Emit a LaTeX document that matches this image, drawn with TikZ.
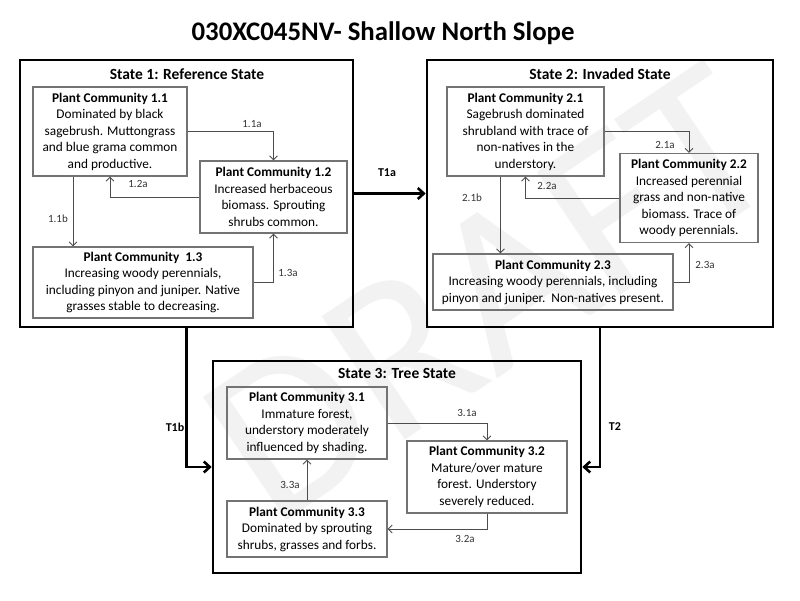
\documentclass[tikz,border=0pt]{standalone}
\usepackage{fontspec}
\setmainfont{Carlito}
\usetikzlibrary{arrows.meta}
\tikzset{
  statebox/.style={draw, line width=2.6pt, inner sep=0pt},
  statetitle/.style={font=\fontsize{15.5}{18}\selectfont\bfseries},
  pcbox/.style={draw=black!55, line width=1.1pt, align=center, inner sep=1pt,
    font=\fontsize{13.3}{16.5}\selectfont},
  pcarrow/.style={draw=black!70, line width=0.9pt, -{Straight Barb[length=4pt,width=8pt]}},
  trarrow/.style={line width=2.6pt, -{Straight Barb[length=6pt,width=11pt]}},
  pclabel/.style={font=\fontsize{11}{13}\selectfont, text=black!80},
  trlabel/.style={font=\fontsize{12}{14}\selectfont\bfseries}
}
\begin{document}
\begin{tikzpicture}[x=1pt,y=-1pt]
\useasboundingbox (0,0) rectangle (800,600);
% watermark
\node[rotate=34, text=black!5, font=\fontsize{232}{232}\selectfont] (draft) at (490,294) {DRAFT};
\node[font=\fontsize{26.8}{30}\selectfont\bfseries] (title) at (383,33) {030XC045NV- Shallow North Slope};
% states
\node[statebox, minimum width=333, minimum height=267] (s1) at (186.5,193.5) {};
\node[statebox, minimum width=346, minimum height=267] (s2) at (600,193.5) {};
\node[statebox, minimum width=368, minimum height=212] (s3) at (397,467) {};
\node[statetitle] (s1t) at (187,74) {State 1: Reference State};
\node[statetitle] (s2t) at (600,74) {State 2: Invaded State};
\node[statetitle] (s3t) at (397,373) {State 3: Tree State};
% state 1
\node[pcbox, minimum width=154, minimum height=89] (pc11) at (110,131.5)
  {\textbf{Plant Community 1.1}\\Dominated by black\\sagebrush. Muttongrass\\and blue grama common\\and productive.};
\node[pcbox, minimum width=147, minimum height=72] (pc12) at (273.5,197)
  {\textbf{Plant Community 1.2}\\Increased herbaceous\\biomass. Sprouting\\shrubs common.};
\node[pcbox, minimum width=220, minimum height=71] (pc13) at (143,282.5)
  {\textbf{Plant Community\ \ 1.3}\\Increasing woody perennials,\\including pinyon and juniper. Native\\grasses stable to decreasing.};
\draw[pcarrow] (pc11.east) -| (pc12.north);
\draw[pcarrow] (pc12.west) -| (pc11.south);
\draw[pcarrow] ([xshift=-37]pc11.south) -- ([xshift=-37]pc11.south |- pc13.north);
\draw[pcarrow] (pc13.east) -| (pc12.south);
\node[pclabel] at (252,124) {1.1a};
\node[pclabel] at (138,184) {1.2a};
\node[pclabel] at (58,219) {1.1b};
\node[pclabel] at (288,273) {1.3a};
% state 2
\node[pcbox, minimum width=157, minimum height=89] (pc21) at (525.5,131.5)
  {\textbf{Plant Community 2.1}\\Sagebrush dominated\\shrubland with trace of\\non-natives in the\\understory.};
\node[pcbox, minimum width=138, minimum height=89] (pc22) at (689,198)
  {\textbf{Plant Community 2.2}\\Increased perennial\\grass and non-native\\biomass. Trace of\\woody perennials.};
\node[pcbox, minimum width=240, minimum height=56] (pc23) at (553,282)
  {\textbf{Plant Community 2.3}\\Increasing woody perennials, including\\pinyon and juniper.\ \ Non-natives present.};
\draw[pcarrow] (pc21.east) -| (pc22.north);
\draw[pcarrow] (pc22.west) -| (pc21.south);
\draw[pcarrow] ([xshift=-25]pc21.south) -- ([xshift=-25]pc21.south |- pc23.north);
\draw[pcarrow] (pc23.east) -| (pc22.south);
\node[pclabel] at (665,145) {2.1a};
\node[pclabel] at (547,186) {2.2a};
\node[pclabel] at (472,198) {2.1b};
\node[pclabel] at (705,265) {2.3a};
% state 3
\node[pcbox, minimum width=160, minimum height=72] (pc31) at (307,423)
  {\textbf{Plant Community 3.1}\\Immature forest,\\understory moderately\\influenced by shading.};
\node[pcbox, minimum width=160, minimum height=72] (pc32) at (487,477)
  {\textbf{Plant Community 3.2}\\Mature/over mature\\forest. Understory\\severely reduced.};
\node[pcbox, minimum width=160, minimum height=56] (pc33) at (307,529)
  {\textbf{Plant Community 3.3}\\Dominated by sprouting\\shrubs, grasses and forbs.};
\draw[pcarrow] (pc31.east) -| (pc32.north);
\draw[pcarrow] (pc33.north) -- (pc31.south);
\draw[pcarrow] (pc32.south) |- (pc33.east);
\node[pclabel] at (467,413) {3.1a};
\node[pclabel] at (290,485) {3.3a};
\node[pclabel] at (465,539) {3.2a};
% transitions
\draw[trarrow] (s1.east) -- (s2.west);
\draw[trarrow] (s1.south) |- (s3.west);
\draw[trarrow] (s2.south) |- (s3.east);
\node[trlabel] at (387,173) {T1a};
\node[trlabel] at (175,427) {T1b};
\node[trlabel] at (615,427) {T2};
\end{tikzpicture}
\end{document}
